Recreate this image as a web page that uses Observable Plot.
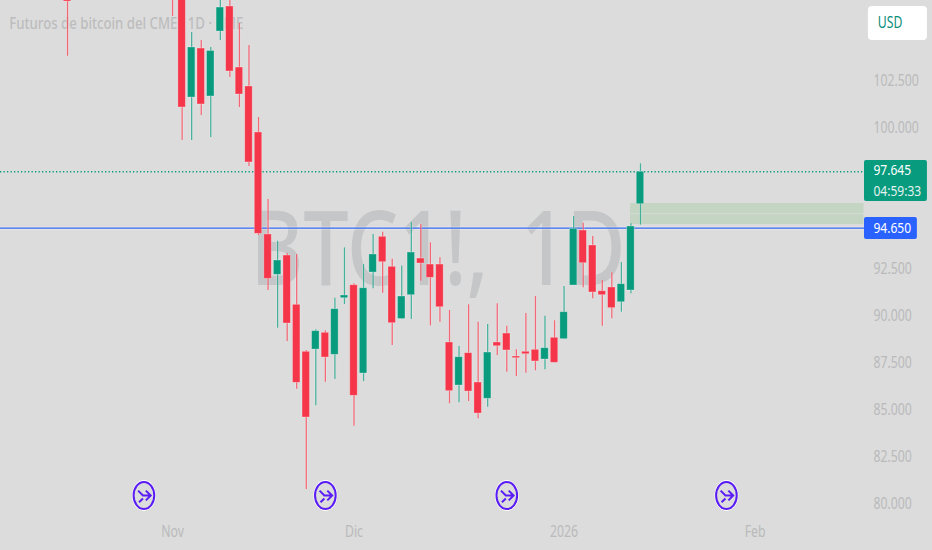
<!DOCTYPE html>
<html>
<head>
<meta charset="utf-8">
<script src="https://cdn.jsdelivr.net/npm/d3@7"></script>
<script src="https://cdn.jsdelivr.net/npm/@observablehq/plot@0.6"></script>
<style>
html,body{margin:0;padding:0;background:#dcdcdc;overflow:hidden}
svg{display:block}
</style>
</head>
<body>
<div id="chart"></div>
<script>
const barIndex = [-60,-49,-48,-47,-46,-45,-44,-43,-42,-41,-40,-39,-38,-37,-36,-35,-34,-33,-32,-31,-30,-29,-28,-27,-26,-25,-24,-23,-22,-21,-20,-19,-18,-17,-16,-15,-14,-13,-12,-11,-10,-9,-8,-7,-6,-5,-4,-3,-2,-1,0];
const opens = [107180,108000,108000,101595,104200,101650,105105,106435,103190,102180,99735,94310,92165,93190,90570,88070,88190,89080,87910,90920,91610,86915,92285,94185,92590,89815,91080,93030,92710,92710,88565,86275,87995,86435,85570,88565,89040,87820,88070,88175,87660,88815,88740,91595,94520,93725,91290,91490,90705,91330,95920];
const highs = [107500,108500,108500,105050,104625,104255,107000,107200,105530,104360,100530,96170,93950,93300,93245,88140,89240,89185,90920,93600,91685,92710,94310,94430,92995,92635,94945,94840,93865,93070,90265,88350,90570,89645,89520,90620,89430,88175,90105,91010,89960,89720,91540,95265,94910,94200,91860,92270,92820,94875,98070];
const lows = [103790,105905,99310,99310,100640,99470,104625,102660,101065,97925,94255,91330,89325,88615,86080,80745,85195,86450,86595,90585,84110,86490,91420,91185,88405,89790,89785,91825,89450,89645,85305,85355,85425,84505,85120,87870,86985,86755,86930,87060,87110,87485,88740,91595,91475,90890,89430,89825,90175,91155,94805];
const closes = [106700,107000,101065,104255,101225,104070,106380,102980,101755,98140,94345,91950,92925,89575,86420,84575,89165,87765,90335,91065,85730,91450,93245,92835,89590,91010,93350,92765,92005,90440,85975,87780,85955,84785,88030,88365,88140,87730,87940,87555,88260,87485,90175,94610,92780,91225,91080,90390,91665,94735,97645];

const yTicks = [80000,82500,85000,87500,90000,92500,100000,102500];
const monthTicks = [-49,-30,-8,12];
const monthLabels = ["Nov","Dic","2026","Feb"];
const eventBars = [-52,-33,-14,9];
const eventPrice = 80425;
const lastPrice = 97645;
const linePrice = 94650;
const zones = [
  {y1: 95425, y2: 95957},
  {y1: 94840, y2: 95390}
];

const bars = barIndex.map((i, k) => ({i, o: opens[k], h: highs[k], l: lows[k], c: closes[k]}));
const RED = "#f5364a", GREEN = "#089b7e", TXT = "#b9babb", BG = "#dcdcdc";
const FONT = "'Noto Sans',sans-serif";
const up = d => d.c >= d.o;
const fmt = v => d3.format(".3f")(v / 1000);

const oval = {draw(c, size) {
  const r = Math.sqrt(size / Math.PI), rx = r * 0.76, ry = r, kx = rx * 0.5523, ky = ry * 0.5523;
  c.moveTo(rx, 0);
  c.bezierCurveTo(rx, ky, kx, ry, 0, ry);
  c.bezierCurveTo(-kx, ry, -rx, ky, -rx, 0);
  c.bezierCurveTo(-rx, -ky, -kx, -ry, 0, -ry);
  c.bezierCurveTo(kx, -ry, rx, -ky, rx, 0);
  c.closePath();
}};
const glyph = {draw(c, size) {
  const r = Math.sqrt(size / Math.PI), u = r / 14;
  oval.draw(c, size);
  c.moveTo(-6 * u, -5 * u); c.lineTo(-1 * u, 0); c.lineTo(7 * u, 0);
  c.moveTo(2 * u, -5 * u); c.lineTo(7 * u, 0); c.lineTo(2 * u, 5 * u);
  c.moveTo(-5 * u, 7 * u); c.lineTo(-1 * u, 3 * u);
}};

const chart = Plot.plot({
  width: 932, height: 550,
  marginLeft: 0, marginRight: 68, marginTop: 0, marginBottom: 30,
  style: {background: BG, fontFamily: FONT},
  x: {type: "linear", domain: [-67.02, 23.46], axis: null},
  y: {domain: [79096, 106755], axis: null},
  marks: [
    Plot.text(["BTC1!, 1D"], {x: [-21.2], y: [93400], text: d => d, fontSize: 103, fill: "#c5c6c8", fontFamily: FONT, fontWeight: 500, className: "wm"}),
    Plot.text(["Futuros de bitcoin del CME · 1D · CME"], {x: [-66.1], y: [105530], text: d => d, textAnchor: "start", fontSize: 16, fontWeight: 500, fill: "#bcbdbe", fontFamily: FONT, className: "ttl"}),
    Plot.axisY({ticks: yTicks, tickFormat: fmt, anchor: "right", tickSize: 0, tickPadding: 9, dy: 0.8, label: null, fontSize: 15.5, fill: TXT, fontFamily: FONT}),
    Plot.axisX({ticks: monthTicks, tickFormat: d => monthLabels[monthTicks.indexOf(d)], anchor: "bottom", tickSize: 0, tickPadding: 5, label: null, fontSize: 15.5, fill: TXT, fontFamily: FONT}),
    Plot.rect(zones, {x1: -1.04, x2: 23.4, y1: "y1", y2: "y2", fill: "#c4d5c3"}),
    Plot.ruleY([lastPrice], {stroke: GREEN, strokeWidth: 1.4, strokeDasharray: "1.3,2.2"}),
    Plot.ruleY([linePrice], {stroke: "#fff", strokeWidth: 2.6, strokeOpacity: 0.5}),
    Plot.ruleY([linePrice], {stroke: "#2f62ef", strokeWidth: 1.4}),
    Plot.ruleX(bars, {x: "i", y1: "l", y2: "h", stroke: "#fff", strokeOpacity: 0.35, strokeWidth: 2.4, clip: true}),
    Plot.ruleX(bars, {x: "i", y1: "l", y2: "h", stroke: d => up(d) ? GREEN : RED, strokeOpacity: 0.72, strokeWidth: 1.3, clip: true}),
    Plot.rect(bars, {x1: d => d.i - 0.39, x2: d => d.i + 0.39, y1: "o", y2: "c", fill: d => up(d) ? GREEN : RED, stroke: "#fff", strokeOpacity: 0.35, strokeWidth: 0.8, clip: true}),
    Plot.dot(eventBars, {x: d => d, y: eventPrice, r: 14.6, symbol: oval, fill: BG, stroke: "#fff", strokeWidth: 1.6}),
    Plot.dot(eventBars, {x: d => d, y: eventPrice, r: 13.6, symbol: glyph, fill: "none", stroke: "#5a1cf5", strokeWidth: 2}),
    Plot.rect([0], {x1: 23.87, x2: 30.05, y1: 104625, y2: 106435, fill: "#fff", r: 4}),
    Plot.text(["USD"], {x: [24.85], y: [105530], text: d => d, textAnchor: "start", fontSize: 15.5, fill: "#0b8f7b", fontFamily: FONT}),
    Plot.rect([0], {x1: 23.46, x2: 30.05, y1: 96065, y2: 98245, fill: GREEN, r: 2}),
    Plot.text([fmt(lastPrice)], {x: [24.4], y: [97700], text: d => d, textAnchor: "start", fontSize: 14, fill: "#fff", fontFamily: FONT, className: "tag"}),
    Plot.text(["04:59:33"], {x: [24.4], y: [96600], text: d => d, textAnchor: "start", fontSize: 14, fill: "#e4f3ef", fontFamily: FONT, className: "tag"}),
    Plot.rect([0], {x1: 23.46, x2: 29, y1: 94040, y2: 95210, fill: "#2962ff", r: 2}),
    Plot.text([fmt(linePrice)], {x: [24.4], y: [linePrice], text: d => d, textAnchor: "start", fontSize: 14, fill: "#fff", fontFamily: FONT, className: "tag"})
  ]
});
document.getElementById("chart").append(chart);
// the reference is horizontally condensed: narrow every text to the same ratio
d3.select(chart).selectAll("text").each(function() {
  const len = this.getComputedTextLength();
  const ratio = this.closest(".tag") ? 0.86 : 0.79;
  if (len > 0) d3.select(this).attr("textLength", len * ratio).attr("lengthAdjust", "spacingAndGlyphs");
});
d3.select(chart).select(".wm text").attr("textLength", 375).style("word-spacing", "14px");
d3.select(chart).select(".ttl text").attr("textLength", 234);
</script>
</body>
</html>
